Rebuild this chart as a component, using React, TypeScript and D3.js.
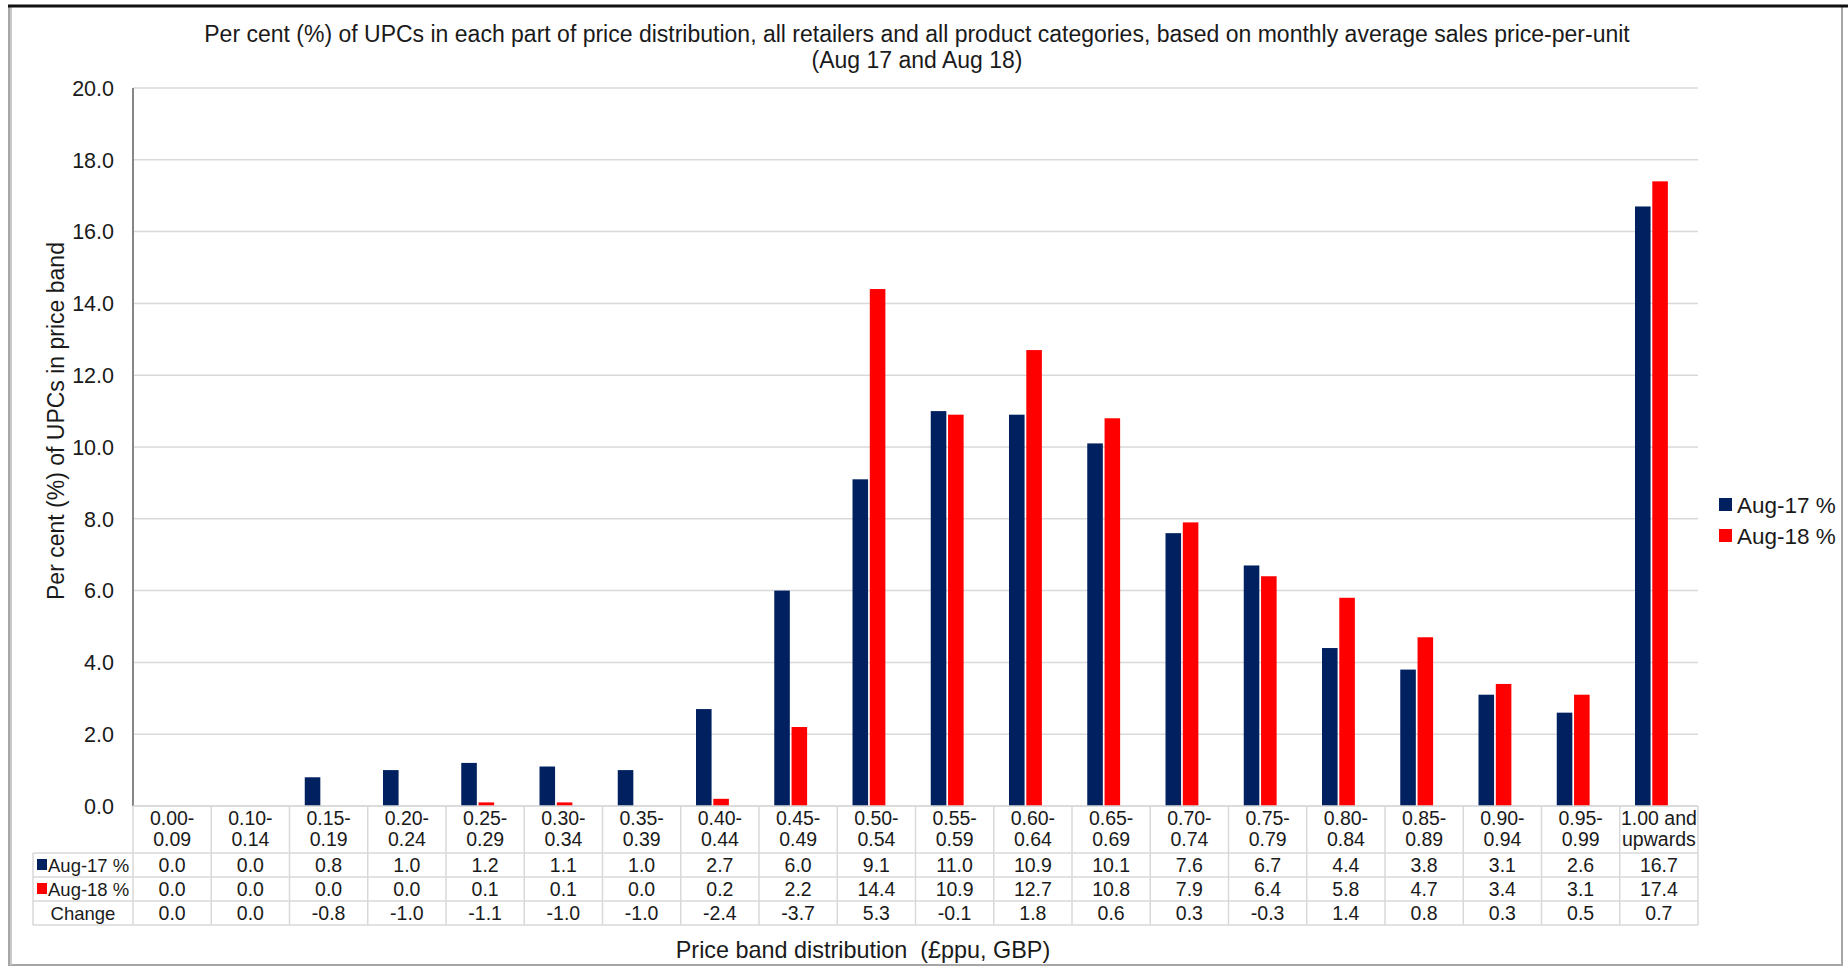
import React from "react";
import * as d3 from "d3";

const categories: string[][] = [
  ["0.00-", "0.09"], ["0.10-", "0.14"], ["0.15-", "0.19"], ["0.20-", "0.24"],
  ["0.25-", "0.29"], ["0.30-", "0.34"], ["0.35-", "0.39"], ["0.40-", "0.44"],
  ["0.45-", "0.49"], ["0.50-", "0.54"], ["0.55-", "0.59"], ["0.60-", "0.64"],
  ["0.65-", "0.69"], ["0.70-", "0.74"], ["0.75-", "0.79"], ["0.80-", "0.84"],
  ["0.85-", "0.89"], ["0.90-", "0.94"], ["0.95-", "0.99"], ["1.00 and", "upwards"],
];
const aug17: number[] = [0.0, 0.0, 0.8, 1.0, 1.2, 1.1, 1.0, 2.7, 6.0, 9.1, 11.0, 10.9, 10.1, 7.6, 6.7, 4.4, 3.8, 3.1, 2.6, 16.7];
const aug18: number[] = [0.0, 0.0, 0.0, 0.0, 0.1, 0.1, 0.0, 0.2, 2.2, 14.4, 10.9, 12.7, 10.8, 7.9, 6.4, 5.8, 4.7, 3.4, 3.1, 17.4];
const change: number[] = [0.0, 0.0, -0.8, -1.0, -1.1, -1.0, -1.0, -2.4, -3.7, 5.3, -0.1, 1.8, 0.6, 0.3, -0.3, 1.4, 0.8, 0.3, 0.5, 0.7];
const seriesNames: string[] = ["Aug-17 %", "Aug-18 %"];
const seriesColors: string[] = ["#002060", "#FF0000"];
const yTicks: number[] = [0, 2, 4, 6, 8, 10, 12, 14, 16, 18, 20];
const titleLines: string[] = [
  "Per cent (%) of UPCs in each part of price distribution, all retailers and all product categories, based on monthly average sales price-per-unit",
  "(Aug 17 and Aug 18)",
];
const yTitle = "Per cent (%) of UPCs in price band";
const xTitle = "Price band distribution  (£ppu, GBP)";

const W = 1848;
const H = 968;
const FONT = "'Liberation Sans', Arial, sans-serif";
const TEXT = "#1a1a1a";
const GRID = "#D9D9D9";

export default function App() {
  const plotL = 133, plotR = 1698, plotT = 88, plotB = 806;
  const tableL = 33;
  const headerB = 853;
  const rowH = 24;

  const x0 = d3.scaleBand<number>().domain(d3.range(categories.length)).range([plotL, plotR]);
  const bw = x0.bandwidth();
  const x1 = d3.scaleBand<number>().domain([0, 1]).range([bw * 0.195, bw * 0.615]).paddingInner(0.1);
  const y = d3.scaleLinear().domain([0, 20]).range([plotB, plotT]);
  const f1 = d3.format(".1f");
  const fmt = (v: number) => f1(v).replace("\u2212", "-");
  const series = [aug17, aug18];
  const rows: { label: string; vals: number[]; color?: string }[] = [
    { label: seriesNames[0], vals: aug17, color: seriesColors[0] },
    { label: seriesNames[1], vals: aug18, color: seriesColors[1] },
    { label: "Change", vals: change },
  ];
  const tableB = headerB + rowH * rows.length;

  return (
    <svg width={W} height={H} style={{ position: "absolute", left: 0, top: 0, background: "#fff" }} fontFamily={FONT}>
      {/* frame */}
      <rect x={9} y={6} width={1833} height={959} fill="#fff" stroke="#a6a6a6" strokeWidth={2} />
      <line x1={11} x2={11} y1={6} y2={965} stroke="#c8c8c8" strokeWidth={2} />
      <line x1={8} x2={W} y1={6} y2={6} stroke="#111" strokeWidth={3} />

      {/* title */}
      {titleLines.map((t, i) => (
        <text key={i} x={917} y={42 + i * 26} textAnchor="middle" fontSize={23} fill={TEXT}>{t}</text>
      ))}

      {/* gridlines */}
      {yTicks.map((t) => (
        <line key={t} x1={plotL} x2={plotR} y1={y(t)} y2={y(t)} stroke={GRID} strokeWidth={1.5} />
      ))}
      {/* y tick labels */}
      {yTicks.map((t) => (
        <text key={"l" + t} x={114} y={y(t)} dy="0.36em" textAnchor="end" fontSize={21.5} fill={TEXT}>{fmt(t)}</text>
      ))}
      {/* y title */}
      <text transform={`translate(56,421) rotate(-90)`} textAnchor="middle" dy="0.36em" fontSize={23} fill={TEXT}>{yTitle}</text>

      {/* bars */}
      {series.map((vals, s) =>
        vals.map((v, i) => (
          <rect key={s + "-" + i} x={(x0(i) as number) + (x1(s) as number)} width={x1.bandwidth()}
            y={y(v)} height={plotB - y(v)} fill={seriesColors[s]} />
        ))
      )}

      {/* y axis line */}
      <line x1={plotL} x2={plotL} y1={plotT} y2={plotB} stroke="#868686" strokeWidth={2} />

      {/* table grid */}
      <line x1={plotL} x2={plotR} y1={plotB} y2={plotB} stroke={GRID} strokeWidth={1.5} />
      {rows.map((r, k) => (
        <line key={"h" + k} x1={tableL} x2={plotR} y1={headerB + k * rowH} y2={headerB + k * rowH} stroke={GRID} strokeWidth={1.5} />
      ))}
      <line x1={tableL} x2={plotR} y1={tableB} y2={tableB} stroke={GRID} strokeWidth={1.5} />
      <line x1={tableL} x2={tableL} y1={headerB} y2={tableB} stroke={GRID} strokeWidth={1.5} />
      {categories.map((c, i) => (
        <line key={"v" + i} x1={(x0(i) as number) + bw} x2={(x0(i) as number) + bw} y1={plotB} y2={tableB} stroke={GRID} strokeWidth={1.5} />
      ))}
      <line x1={plotL} x2={plotL} y1={plotB} y2={tableB} stroke={GRID} strokeWidth={1.5} />

      {/* header labels */}
      {categories.map((c, i) => (
        <g key={"c" + i}>
          {c.map((ln, j) => (
            <text key={j} x={(x0(i) as number) + bw / 2} y={818 + j * 21} dy="0.36em" textAnchor="middle" fontSize={19.5} fill={TEXT}>{ln}</text>
          ))}
        </g>
      ))}

      {/* rows */}
      {rows.map((r, k) => (
        <g key={"r" + k}>
          {r.color ? (
            <>
              <rect x={37} y={headerB + k * rowH + rowH / 2 - 6} width={10} height={11} fill={r.color} />
              <text x={48} y={headerB + k * rowH + rowH / 2} dy="0.36em" textAnchor="start" fontSize={18.5} fill={TEXT}>{r.label}</text>
            </>
          ) : (
            <text x={(tableL + plotL) / 2} y={headerB + k * rowH + rowH / 2} dy="0.36em" textAnchor="middle" fontSize={18.5} fill={TEXT}>{r.label}</text>
          )}
          {r.vals.map((v, i) => (
            <text key={i} x={(x0(i) as number) + bw / 2} y={headerB + k * rowH + rowH / 2} dy="0.36em" textAnchor="middle" fontSize={19.5} fill={TEXT}>{fmt(v)}</text>
          ))}
        </g>
      ))}

      {/* x title */}
      <text x={863} y={950} dy="0.36em" textAnchor="middle" fontSize={23.4} fill={TEXT} style={{ whiteSpace: "pre" }}>{xTitle}</text>

      {/* legend */}
      {seriesNames.map((n, s) => (
        <g key={"lg" + s}>
          <rect x={1719} y={498 + s * 31} width={13} height={13} fill={seriesColors[s]} />
          <text x={1737} y={504.5 + s * 31} dy="0.36em" fontSize={22.5} fill={TEXT}>{n}</text>
        </g>
      ))}
    </svg>
  );
}
